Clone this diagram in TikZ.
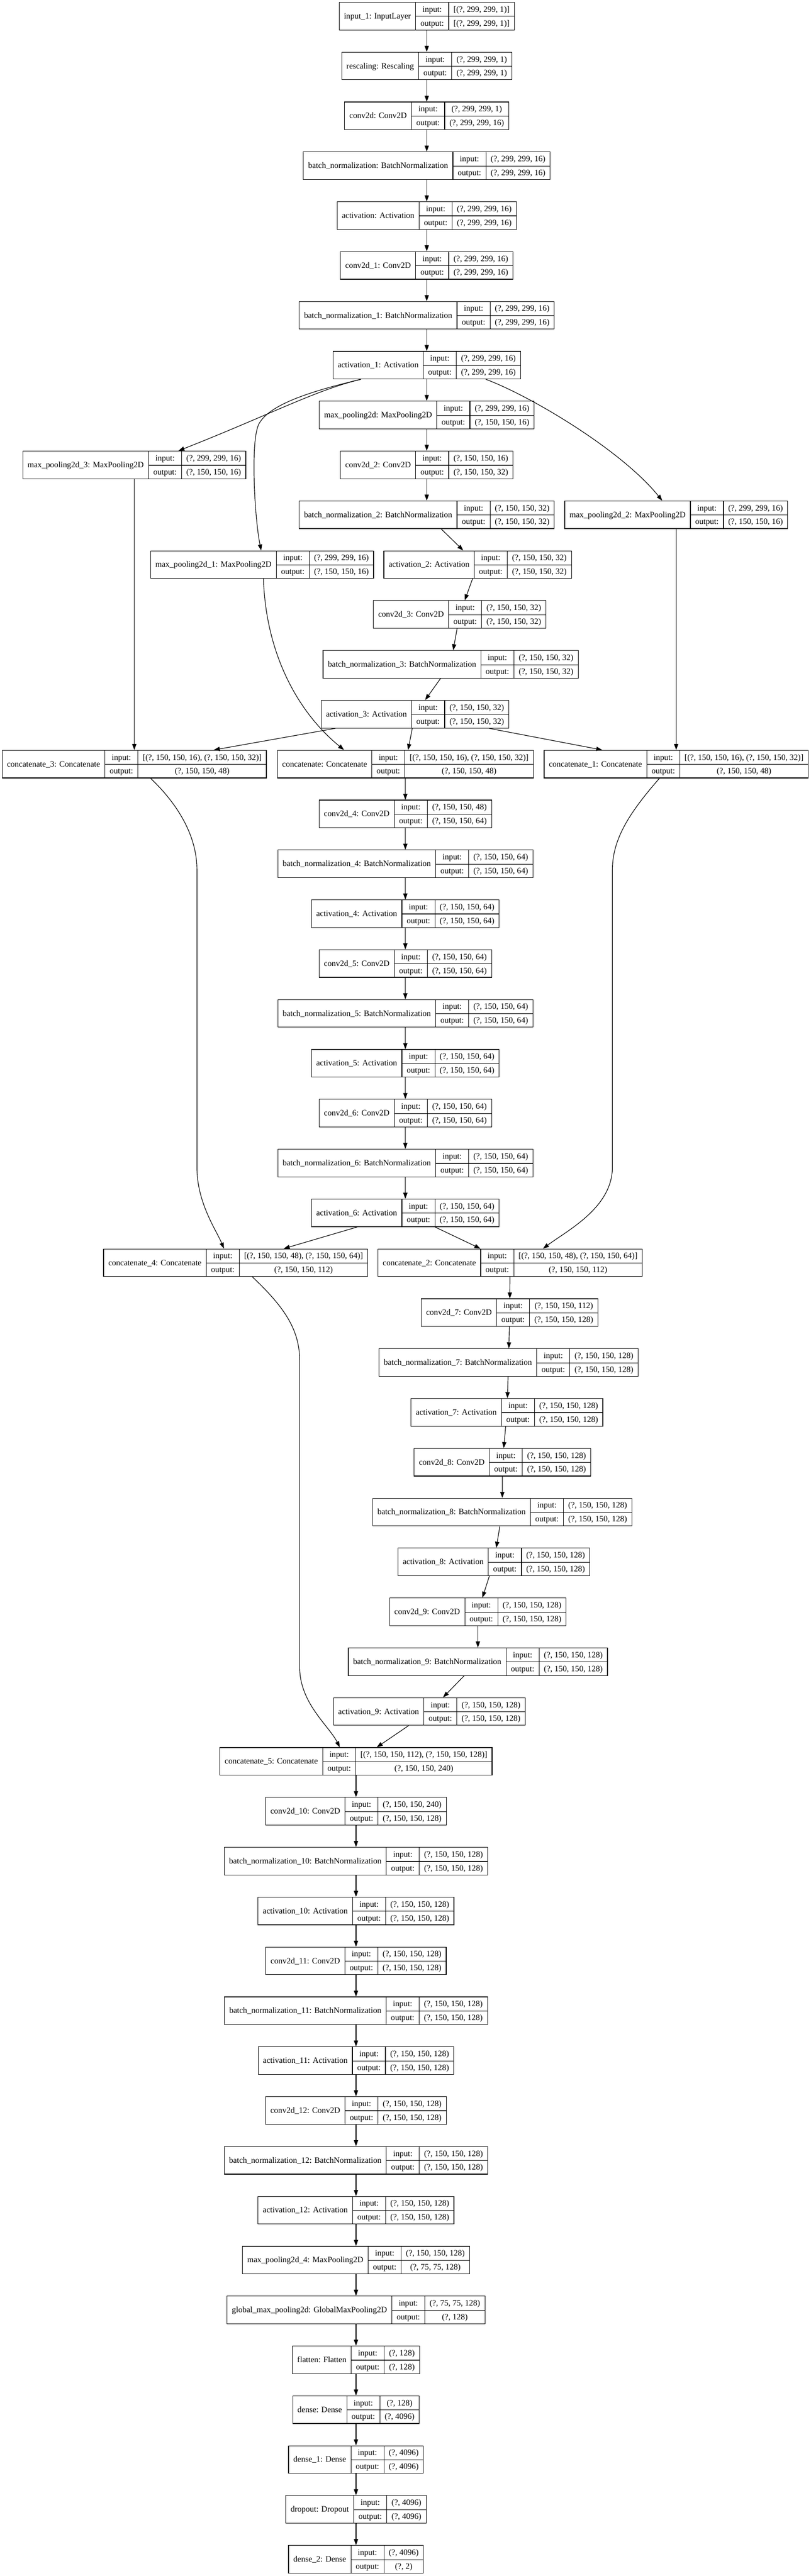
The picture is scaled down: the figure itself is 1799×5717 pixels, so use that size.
\documentclass[tikz,border=0pt]{standalone}
\usepackage{fontspec}
\setmainfont{Liberation Serif}
\usepackage{tikz}
\usetikzlibrary{arrows.meta, calc}
\setlength{\arrayrulewidth}{1pt}
\setlength{\tabcolsep}{8pt}
\newcommand{\rec}[3]{%
\begin{tabular}{c|c|c}
\raisebox{-11.2pt}[0pt][0pt]{#1} & \rule[-6.9pt]{0pt}{23pt}input: & #2\\ \cline{2-3}
 & \rule[-6.9pt]{0pt}{23pt}output: & #3
\end{tabular}}

\begin{document}
\begin{tikzpicture}[x=0.75pt, y=-0.75pt,
  lay/.style={draw, line width=1pt, inner sep=0pt, fill=white, font=\fontsize{13.75pt}{16.5pt}\selectfont},
  con/.style={line width=1pt, -{Triangle[length=10pt, width=7pt]}}]
\fill[white] (0,0) rectangle (1799,5717);
\useasboundingbox (0,0) rectangle (1799,5717);

\node[lay] (input1) at (947,35.75) {\rec{input\_1: InputLayer}{[(?, 299, 299, 1)]}{[(?, 299, 299, 1)]}};
\node[lay] (rescaling) at (947,146.42) {\rec{rescaling: Rescaling}{(?, 299, 299, 1)}{(?, 299, 299, 1)}};
\node[lay] (conv0) at (947,257.08) {\rec{conv2d: Conv2D}{(?, 299, 299, 1)}{(?, 299, 299, 16)}};
\node[lay] (bn0) at (947,367.75) {\rec{batch\_normalization: BatchNormalization}{(?, 299, 299, 16)}{(?, 299, 299, 16)}};
\node[lay] (act0) at (947,478.42) {\rec{activation: Activation}{(?, 299, 299, 16)}{(?, 299, 299, 16)}};
\node[lay] (conv1) at (947,589.09) {\rec{conv2d\_1: Conv2D}{(?, 299, 299, 16)}{(?, 299, 299, 16)}};
\node[lay] (bn1) at (947,699.75) {\rec{batch\_normalization\_1: BatchNormalization}{(?, 299, 299, 16)}{(?, 299, 299, 16)}};
\node[lay] (act1) at (947,810.42) {\rec{activation\_1: Activation}{(?, 299, 299, 16)}{(?, 299, 299, 16)}};
\node[lay] (mp0) at (947,921.09) {\rec{max\_pooling2d: MaxPooling2D}{(?, 299, 299, 16)}{(?, 150, 150, 16)}};
\node[lay] (mp3) at (298,1031.75) {\rec{max\_pooling2d\_3: MaxPooling2D}{(?, 299, 299, 16)}{(?, 150, 150, 16)}};
\node[lay] (conv2) at (947,1031.75) {\rec{conv2d\_2: Conv2D}{(?, 150, 150, 16)}{(?, 150, 150, 32)}};
\node[lay] (bn2) at (947,1142.42) {\rec{batch\_normalization\_2: BatchNormalization}{(?, 150, 150, 32)}{(?, 150, 150, 32)}};
\node[lay] (mp2) at (1500.5,1142.42) {\rec{max\_pooling2d\_2: MaxPooling2D}{(?, 299, 299, 16)}{(?, 150, 150, 16)}};
\node[lay] (mp1) at (581.6,1253.09) {\rec{max\_pooling2d\_1: MaxPooling2D}{(?, 299, 299, 16)}{(?, 150, 150, 16)}};
\node[lay] (act2) at (1060,1253.09) {\rec{activation\_2: Activation}{(?, 150, 150, 32)}{(?, 150, 150, 32)}};
\node[lay] (conv3) at (1020,1363.75) {\rec{conv2d\_3: Conv2D}{(?, 150, 150, 32)}{(?, 150, 150, 32)}};
\node[lay] (bn3) at (1000,1474.42) {\rec{batch\_normalization\_3: BatchNormalization}{(?, 150, 150, 32)}{(?, 150, 150, 32)}};
\node[lay] (act3) at (921,1585.09) {\rec{activation\_3: Activation}{(?, 150, 150, 32)}{(?, 150, 150, 32)}};
\node[lay] (cat3) at (298,1695.76) {\rec{concatenate\_3: Concatenate}{[(?, 150, 150, 16), (?, 150, 150, 32)]}{(?, 150, 150, 48)}};
\node[lay] (cat0) at (899.5,1695.76) {\rec{concatenate: Concatenate}{[(?, 150, 150, 16), (?, 150, 150, 32)]}{(?, 150, 150, 48)}};
\node[lay] (cat1) at (1500.5,1695.76) {\rec{concatenate\_1: Concatenate}{[(?, 150, 150, 16), (?, 150, 150, 32)]}{(?, 150, 150, 48)}};
\node[lay] (conv4) at (899.5,1806.42) {\rec{conv2d\_4: Conv2D}{(?, 150, 150, 48)}{(?, 150, 150, 64)}};
\node[lay] (bn4) at (899.5,1917.09) {\rec{batch\_normalization\_4: BatchNormalization}{(?, 150, 150, 64)}{(?, 150, 150, 64)}};
\node[lay] (act4) at (899.5,2027.76) {\rec{activation\_4: Activation}{(?, 150, 150, 64)}{(?, 150, 150, 64)}};
\node[lay] (conv5) at (899.5,2138.42) {\rec{conv2d\_5: Conv2D}{(?, 150, 150, 64)}{(?, 150, 150, 64)}};
\node[lay] (bn5) at (899.5,2249.09) {\rec{batch\_normalization\_5: BatchNormalization}{(?, 150, 150, 64)}{(?, 150, 150, 64)}};
\node[lay] (act5) at (899.5,2359.76) {\rec{activation\_5: Activation}{(?, 150, 150, 64)}{(?, 150, 150, 64)}};
\node[lay] (conv6) at (899.5,2470.42) {\rec{conv2d\_6: Conv2D}{(?, 150, 150, 64)}{(?, 150, 150, 64)}};
\node[lay] (bn6) at (899.5,2581.09) {\rec{batch\_normalization\_6: BatchNormalization}{(?, 150, 150, 64)}{(?, 150, 150, 64)}};
\node[lay] (act6) at (899.5,2691.76) {\rec{activation\_6: Activation}{(?, 150, 150, 64)}{(?, 150, 150, 64)}};
\node[lay] (cat4) at (523,2802.43) {\rec{concatenate\_4: Concatenate}{[(?, 150, 150, 48), (?, 150, 150, 64)]}{(?, 150, 150, 112)}};
\node[lay] (cat2) at (1132,2802.43) {\rec{concatenate\_2: Concatenate}{[(?, 150, 150, 48), (?, 150, 150, 64)]}{(?, 150, 150, 112)}};
\node[lay] (conv7) at (1131,2913.09) {\rec{conv2d\_7: Conv2D}{(?, 150, 150, 112)}{(?, 150, 150, 128)}};
\node[lay] (bn7) at (1128.5,3023.76) {\rec{batch\_normalization\_7: BatchNormalization}{(?, 150, 150, 128)}{(?, 150, 150, 128)}};
\node[lay] (act7) at (1125,3134.43) {\rec{activation\_7: Activation}{(?, 150, 150, 128)}{(?, 150, 150, 128)}};
\node[lay] (conv8) at (1115,3245.09) {\rec{conv2d\_8: Conv2D}{(?, 150, 150, 128)}{(?, 150, 150, 128)}};
\node[lay] (bn8) at (1114.5,3355.76) {\rec{batch\_normalization\_8: BatchNormalization}{(?, 150, 150, 128)}{(?, 150, 150, 128)}};
\node[lay] (act8) at (1096,3466.43) {\rec{activation\_8: Activation}{(?, 150, 150, 128)}{(?, 150, 150, 128)}};
\node[lay] (conv9) at (1060.5,3577.09) {\rec{conv2d\_9: Conv2D}{(?, 150, 150, 128)}{(?, 150, 150, 128)}};
\node[lay] (bn9) at (1060.5,3687.76) {\rec{batch\_normalization\_9: BatchNormalization}{(?, 150, 150, 128)}{(?, 150, 150, 128)}};
\node[lay] (act9) at (952.7,3798.43) {\rec{activation\_9: Activation}{(?, 150, 150, 128)}{(?, 150, 150, 128)}};
\node[lay] (cat5) at (790,3909.10) {\rec{concatenate\_5: Concatenate}{[(?, 150, 150, 112), (?, 150, 150, 128)]}{(?, 150, 150, 240)}};
\node[lay] (conv10) at (790,4019.76) {\rec{conv2d\_10: Conv2D}{(?, 150, 150, 240)}{(?, 150, 150, 128)}};
\node[lay] (bn10) at (790,4130.43) {\rec{batch\_normalization\_10: BatchNormalization}{(?, 150, 150, 128)}{(?, 150, 150, 128)}};
\node[lay] (act10) at (790,4241.10) {\rec{activation\_10: Activation}{(?, 150, 150, 128)}{(?, 150, 150, 128)}};
\node[lay] (conv11) at (790,4351.76) {\rec{conv2d\_11: Conv2D}{(?, 150, 150, 128)}{(?, 150, 150, 128)}};
\node[lay] (bn11) at (790,4462.43) {\rec{batch\_normalization\_11: BatchNormalization}{(?, 150, 150, 128)}{(?, 150, 150, 128)}};
\node[lay] (act11) at (790,4573.10) {\rec{activation\_11: Activation}{(?, 150, 150, 128)}{(?, 150, 150, 128)}};
\node[lay] (conv12) at (790,4683.76) {\rec{conv2d\_12: Conv2D}{(?, 150, 150, 128)}{(?, 150, 150, 128)}};
\node[lay] (bn12) at (790,4794.43) {\rec{batch\_normalization\_12: BatchNormalization}{(?, 150, 150, 128)}{(?, 150, 150, 128)}};
\node[lay] (act12) at (790,4905.10) {\rec{activation\_12: Activation}{(?, 150, 150, 128)}{(?, 150, 150, 128)}};
\node[lay] (mp4) at (790,5015.77) {\rec{max\_pooling2d\_4: MaxPooling2D}{(?, 150, 150, 128)}{(?, 75, 75, 128)}};
\node[lay] (gmp) at (790,5126.43) {\rec{global\_max\_pooling2d: GlobalMaxPooling2D}{(?, 75, 75, 128)}{(?, 128)}};
\node[lay] (flatten) at (790,5237.10) {\rec{flatten: Flatten}{(?, 128)}{(?, 128)}};
\node[lay] (dense0) at (790,5347.77) {\rec{dense: Dense}{(?, 128)}{(?, 4096)}};
\node[lay] (dense1) at (790,5458.43) {\rec{dense\_1: Dense}{(?, 4096)}{(?, 4096)}};
\node[lay] (dropout) at (790,5569.10) {\rec{dropout: Dropout}{(?, 4096)}{(?, 4096)}};
\node[lay] (dense2) at (790,5679.77) {\rec{dense\_2: Dense}{(?, 4096)}{(?, 2)}};

\foreach \a/\b in {input1/rescaling, rescaling/conv0, conv0/bn0, bn0/act0, act0/conv1, conv1/bn1, bn1/act1,
  act1/mp0, mp0/conv2, conv2/bn2, bn2/act2, act2/conv3, conv3/bn3, bn3/act3,
  act3/cat3, act3/cat0, act3/cat1, mp3/cat3, mp2/cat1,
  cat0/conv4, conv4/bn4, bn4/act4, act4/conv5, conv5/bn5, bn5/act5, act5/conv6, conv6/bn6, bn6/act6,
  act6/cat4, act6/cat2, cat2/conv7, conv7/bn7, bn7/act7, act7/conv8, conv8/bn8, bn8/act8, act8/conv9, conv9/bn9, bn9/act9,
  act9/cat5, cat5/conv10, conv10/bn10, bn10/act10, act10/conv11, conv11/bn11, bn11/act11, act11/conv12, conv12/bn12, bn12/act12,
  act12/mp4, mp4/gmp, gmp/flatten, flatten/dense0, dense0/dense1, dense1/dropout, dropout/dense2}
  \draw[con] (\a) -- (\b);

\draw[con] ($(act1.south)+(-146,0)$) .. controls (700,866) and (600,920) .. ($(mp3.north)+(98,0)$);
\draw[con] ($(act1.south)+(-146,0)$) .. controls (700,866) and (600,895) .. (575,940)
  .. controls (555,976) and (565,1150) .. ($(mp1.north)+(-2,0)$);
\draw[con] ($(act1.south)+(131,0)$) .. controls (1180,880) and (1380,1000) .. ($(mp2.north)+(-31,0)$);
\draw[con] ($(mp1.south)+(3,0)$) .. controls (590,1450) and (660,1580) .. ($(cat0.north)+(-136,0)$);
\draw[con] ($(cat3.south)+(36,0)$) .. controls (400,1790) and (437,1860) .. (437,1930) -- (437,2590)
  .. controls (437,2670) and (480,2730) .. ($(cat4.north)+(-26,0)$);
\draw[con] ($(cat1.south)+(-37,0)$) .. controls (1400,1800) and (1359,1860) .. (1359,1930) -- (1359,2590)
  .. controls (1359,2680) and (1260,2730) .. ($(cat2.north)+(73,0)$);
\draw[con] ($(cat4.south)+(37,0)$) .. controls (630,2900) and (665,2950) .. (665,3020) -- (665,3700)
  .. controls (665,3780) and (730,3830) .. ($(cat5.north)+(-36,0)$);
\end{tikzpicture}
\end{document}
